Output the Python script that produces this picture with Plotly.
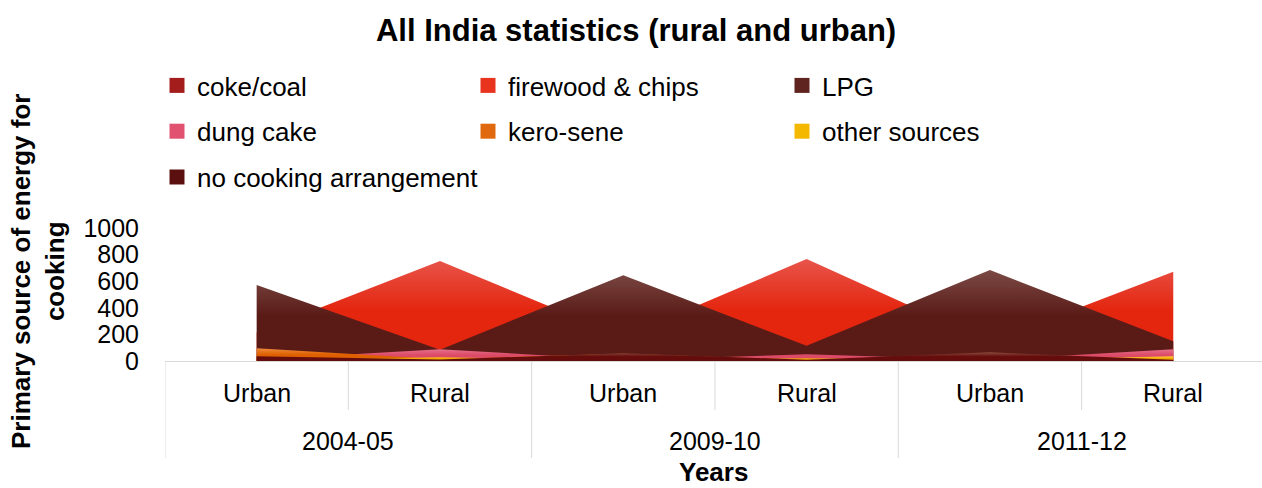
import plotly.graph_objects as go

# Survey rounds and sectors (outer / inner category levels)
years = ["2004-05", "2004-05", "2009-10", "2009-10", "2011-12", "2011-12"]
sectors = ["Urban", "Rural", "Urban", "Rural", "Urban", "Rural"]

# Households per 1000 by primary source of energy for cooking
coke_coal = [30, 12, 19, 8, 17, 9]
firewood_chips = [215, 752, 180, 767, 143, 671]
lpg = [571, 85, 644, 114, 684, 148]
dung_cake = [10, 88, 8, 50, 7, 88]
kerosene = [95, 14, 55, 8, 50, 7]
other_sources = [5, 28, 4, 20, 5, 36]
no_cooking = [35, 12, 58, 10, 65, 9]

y_ticks = [0, 200, 400, 600, 800, 1000]

# name, values, legend column, top colour, body colour, swatch colour
series = [
    ("coke/coal", coke_coal, "legend", "#c0392f", "#8e1414", "#a31d1d"),
    ("firewood & chips", firewood_chips, "legend2", "#e8554b", "#e4260f", "#e8331f"),
    ("LPG", lpg, "legend3", "#7b4a45", "#5a1b17", "#5f2420"),
    ("dung cake", dung_cake, "legend", "#e6708a", "#dc4a68", "#e0526f"),
    ("kero-sene", kerosene, "legend2", "#ee8a3c", "#de6000", "#e0680f"),
    ("other sources", other_sources, "legend3", "#ffcf3a", "#f0a800", "#f5b800"),
    ("no cooking arrangement", no_cooking, "legend", "#8a4a3c", "#650c0c", "#5c0f0f"),
]

fig = go.Figure()

for name, vals, leg, top, body, swatch in series:
    fig.add_trace(go.Scatter(
        x=[years, sectors], y=vals, name=name,
        mode="none", fill="tozeroy",
        fillgradient=dict(
            type="vertical", start=0, stop=max(vals),
            colorscale=[[0, body], [0.5, body], [1, top]],
        ),
        legendgroup=name, showlegend=False,
        hovertemplate="%{x}: %{y}<extra>" + name + "</extra>",
    ))

# Square swatches for the legend, one per series
for name, vals, leg, top, body, swatch in series:
    fig.add_trace(go.Scatter(
        x=[years, sectors], y=[None] * len(years), name=name,
        mode="markers", marker=dict(symbol="square", size=15, color=swatch),
        legend=leg, legendgroup=name, showlegend=True, hoverinfo="skip",
    ))

# Two-row category table under the plot: sector row, then survey-round row
grid = dict(color="#d9d9d9", width=1)
y_row1, y_row2 = (361 - 393) / 133, (361 - 441) / 133
y_inner_end, y_outer_end = (361 - 410) / 133, (361 - 458) / 133

annotations = []
for i, s in enumerate(sectors):
    annotations.append(dict(text=s, xref="x", yref="paper", x=i, y=y_row1,
                            xanchor="center", yanchor="middle", showarrow=False,
                            font=dict(size=25, color="#000000")))

groups = []
for i, yr in enumerate(years):
    if not groups or groups[-1][0] != yr:
        groups.append([yr, i, i])
    else:
        groups[-1][2] = i

for yr, first, last in groups:
    annotations.append(dict(text=yr, xref="x", yref="paper", x=(first + last) / 2,
                            y=y_row2, xanchor="center", yanchor="middle",
                            showarrow=False, font=dict(size=25, color="#000000")))
    fig.add_shape(type="line", xref="x", yref="paper", x0=first - 0.5, x1=first - 0.5,
                  y0=0, y1=y_outer_end, line=grid)
    for j in range(first, last):
        fig.add_shape(type="line", xref="x", yref="paper", x0=j + 0.5, x1=j + 0.5,
                      y0=0, y1=y_inner_end, line=grid)
fig.add_shape(type="line", xref="x", yref="paper", x0=groups[-1][2] + 0.5,
              x1=groups[-1][2] + 0.5, y0=0, y1=y_outer_end, line=grid)

annotations += [
    dict(text="<b>Primary source of energy for<br>cooking</b>",
         xref="paper", yref="paper", x=(38 - 165) / 1097, y=(361 - 272) / 133,
         xanchor="center", yanchor="middle", textangle=-90,
         showarrow=False, font=dict(size=26, color="#000000")),
    dict(text="<b>Years</b>", xref="paper", yref="paper",
         x=0.5, y=(361 - 472) / 133, xanchor="center", yanchor="middle",
         showarrow=False, font=dict(size=26, color="#000000")),
]

legend_common = dict(
    xref="container", yref="container", yanchor="top", xanchor="left",
    orientation="v", tracegroupgap=9, bgcolor="rgba(0,0,0,0)",
    font=dict(size=26, color="#000000"),
)

fig.update_layout(
    width=1262, height=488,
    margin=dict(l=165, r=0, t=228, b=127, autoexpand=False),
    paper_bgcolor="white", plot_bgcolor="white",
    font=dict(family="Liberation Sans, Arial, sans-serif", size=25, color="#000000"),
    title=dict(text="<b>All India statistics (rural and urban)</b>",
               x=0.504, xanchor="center", xref="container",
               y=1 - 30 / 488, yanchor="middle", yref="container",
               font=dict(size=31, color="#000000")),
    legend=dict(x=157 / 1262, y=1 - 62 / 488, **legend_common),
    legend2=dict(x=468 / 1262, y=1 - 62 / 488, **legend_common),
    legend3=dict(x=782 / 1262, y=1 - 62 / 488, **legend_common),
    xaxis=dict(type="multicategory", range=[-0.5, 5.484], automargin=False,
               showdividers=False, showticklabels=False,
               showline=True, linecolor="#d9d9d9", linewidth=1,
               ticks="", showgrid=False),
    yaxis=dict(range=[0, 1000], tickvals=y_ticks, showgrid=False, automargin=False,
               zeroline=False, showline=False, ticks="",
               ticklabelstandoff=25, tickfont=dict(size=25)),
    annotations=annotations,
)

fig.write_html("out.html")
